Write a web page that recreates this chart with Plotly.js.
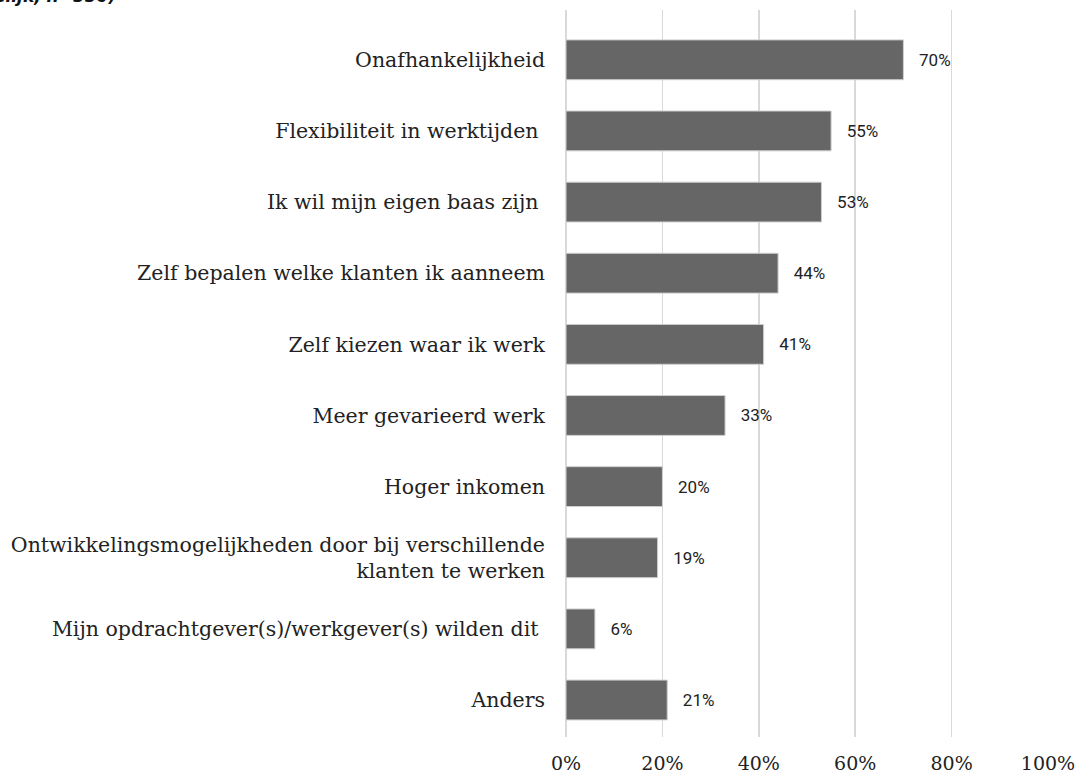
<!DOCTYPE html>
<html>
<head>
<meta charset="utf-8">
<script src="https://cdn.plot.ly/plotly-3.0.1.min.js"></script>
<style>html,body{margin:0;padding:0;background:#fff;}#chart{width:1084px;height:774px;}</style>
</head>
<body>
<div id="chart"></div>
<script>
const categories = [
  "Onafhankelijkheid",
  "Flexibiliteit in werktijden\u00a0",
  "Ik wil mijn eigen baas zijn\u00a0",
  "Zelf bepalen welke klanten ik aanneem",
  "Zelf kiezen waar ik werk",
  "Meer gevarieerd werk",
  "Hoger inkomen",
  "Ontwikkelingsmogelijkheden door bij verschillende<br>klanten te werken",
  "Mijn opdrachtgever(s)/werkgever(s) wilden dit\u00a0",
  "Anders"
];
const values = [70, 55, 53, 44, 41, 33, 20, 19, 6, 21];
const tickValues = [0, 20, 40, 60, 80, 100];
const titleText = '(meerdere antwoorden mogelijk, n=550)';

const trace = {
  type: 'bar',
  orientation: 'h',
  x: values,
  y: categories,
  width: 0.56,
  marker: {color: '#666666', line: {color: '#cfcfcf', width: 1}},
  text: values.map(v => v + '%'),
  texttemplate: '\u00a0\u00a0\u00a0%{text}',
  textposition: 'outside',
  cliponaxis: false,
  textfont: {family: 'Roboto, sans-serif', size: 17, color: '#222'},
  hoverinfo: 'x+y'
};

const layout = {
  width: 1084, height: 774,
  margin: {l: 566, r: 36, t: 10, b: 37},
  paper_bgcolor: '#fff', plot_bgcolor: '#fff',
  showlegend: false,
  xaxis: {
    range: [0, 100],
    tickvals: tickValues,
    ticktext: tickValues.map(v => v + '%'),
    showgrid: true, gridcolor: '#d9d9d9', gridwidth: 1.5,
    zeroline: true, zerolinecolor: '#d9d9d9', zerolinewidth: 1.5,
    showline: false, ticks: '',
    ticklabelstandoff: 13,
    tickfont: {family: 'DejaVu Serif, serif', size: 19, color: '#222'}
  },
  yaxis: {
    type: 'category',
    categoryorder: 'array', categoryarray: categories,
    range: [9.52, -0.70],
    showgrid: false, zeroline: false, showline: false, ticks: '',
    ticklabelstandoff: 20,
    tickfont: {family: 'DejaVu Serif, serif', size: 20.5, color: '#222'}
  },
  annotations: [{
    text: '<b><i>' + titleText + '</i></b>',
    xref: 'paper', yref: 'paper', x: (118 - 566) / 482, xanchor: 'right',
    y: 1, yanchor: 'bottom', yshift: 2, showarrow: false,
    font: {family: 'DejaVu Sans, sans-serif', size: 17, color: '#111'}
  }]
};

Plotly.newPlot('chart', [trace], layout, {displayModeBar: false, staticPlot: true});
</script>
</body>
</html>
